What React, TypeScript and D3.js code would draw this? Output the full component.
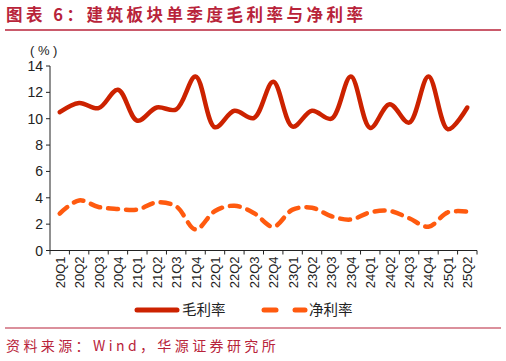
import React from "react";
import * as d3 from "d3";

const categories = ["20Q1","20Q2","20Q3","20Q4","21Q1","21Q2","21Q3","21Q4","22Q1","22Q2","22Q3","22Q4","23Q1","23Q2","23Q3","23Q4","24Q1","24Q2","24Q3","24Q4","25Q1","25Q2"];
const grossMargin = [10.5,11.2,10.8,12.2,9.85,10.85,10.7,13.2,9.35,10.6,10.05,12.8,9.4,10.6,10.0,13.2,9.3,11.1,9.7,13.2,9.2,10.85];
const netMargin = [2.8,3.8,3.3,3.15,3.1,3.65,3.35,1.6,3.0,3.4,2.85,1.8,3.1,3.25,2.6,2.35,2.9,3.0,2.45,1.8,2.9,2.95];
const yTicks = [0,2,4,6,8,10,12,14];

const W = 506, H = 361;
const left = 50, right = 477, top = 66, bottom = 250.5;

export default function App() {
  const x = d3.scaleBand<string>().domain(categories).range([left, right]);
  const y = d3.scaleLinear().domain([0, 14]).range([bottom, top]);
  const cx = (c: string) => (x(c) as number) + x.bandwidth() / 2;
  const line = d3.line<number>()
    .x((_, i) => cx(categories[i]))
    .y((d) => y(d))
    .curve(d3.curveCatmullRom.alpha(0.5));
  const font = "'Liberation Sans', Arial, sans-serif";
  const cjk = "'Noto Sans CJK SC', sans-serif";
  const tickEdges = [...categories.map((c) => x(c) as number), right];
  return (
    <svg width={W} height={H} style={{ position: "absolute", left: 0, top: 0, background: "#fff" }}>
      <text x={6} y={21} fontFamily={cjk} fontWeight={700} fontSize={16.5} letterSpacing={3.5} fill="#b8233a">图表 6：建筑板块单季度毛利率与净利率</text>
      <line x1={5} x2={501} y1={30} y2={30} stroke="#b8233a" strokeWidth={1.5} />
      <text x={30} y={55} fontFamily={font} fontSize={13} fill="#222">( % )</text>
      {/* y axis */}
      <line x1={left} x2={left} y1={top} y2={bottom} stroke="#222" strokeWidth={1} />
      {yTicks.map((t) => (
        <g key={t}>
          <line x1={left - 4} x2={left} y1={y(t)} y2={y(t)} stroke="#222" />
          <text x={left - 7} y={y(t) + 5} textAnchor="end" fontFamily={font} fontSize={14} fill="#222">{t}</text>
        </g>
      ))}
      {/* x axis */}
      <line x1={left - 4} x2={right} y1={bottom} y2={bottom} stroke="#222" />
      {tickEdges.map((t, i) => (
        <line key={i} x1={t} x2={t} y1={bottom} y2={bottom + 4} stroke="#222" />
      ))}
      {categories.map((c) => (
        <text key={c} transform={`translate(${cx(c) + 5},${bottom + 6}) rotate(-90)`} textAnchor="end" fontFamily={font} fontSize={13} fill="#222">{c}</text>
      ))}
      <path d={line(grossMargin) || ""} fill="none" stroke="#cc2200" strokeWidth={4.5} strokeLinecap="round" />
      <path d={line(netMargin) || ""} fill="none" stroke="#ff5a0f" strokeWidth={4.5} strokeDasharray="10 8" strokeLinecap="round" />
      {/* legend */}
      <line x1={137} x2={177} y1={310} y2={310} stroke="#cc2200" strokeWidth={5} strokeLinecap="round" />
      <text x={182} y={315} fontFamily={cjk} fontSize={14.5} fill="#222">毛利率</text>
      <line x1={264} x2={276} y1={310} y2={310} stroke="#ff5a0f" strokeWidth={5} strokeLinecap="round" />
      <line x1={295} x2={305} y1={310} y2={310} stroke="#ff5a0f" strokeWidth={5} strokeLinecap="round" />
      <text x={309} y={315} fontFamily={cjk} fontSize={14.5} fill="#222">净利率</text>
      <line x1={5} x2={501} y1={328} y2={328} stroke="#b8233a" strokeWidth={1.2} />
      <text x={6} y={351} fontFamily={cjk} fontSize={14} letterSpacing={3.4} fill="#b8233a">资料来源：Wind，华源证券研究所</text>
    </svg>
  );
}
